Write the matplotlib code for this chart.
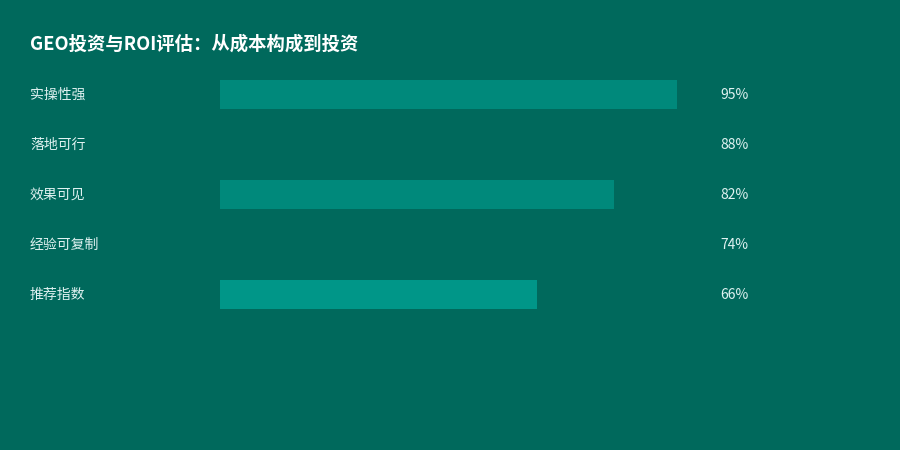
import matplotlib
matplotlib.use("Agg")
import matplotlib.pyplot as plt
import matplotlib.transforms as mtransforms

plt.rcParams['font.family'] = ['Noto Sans CJK SC', 'DejaVu Sans']

title = "GEO投资与ROI评估：从成本构成到投资"
categories = ["实操性强", "落地可行", "效果可见", "经验可复制", "推荐指数"]
values = [95, 88, 82, 74, 66]

BG = "#00695C"
bar_colors = ["#00897B", BG, "#00897B", BG, "#009688"]
TEXT = "#E0F2F1"

fig = plt.figure(figsize=(9, 4.5), dpi=100, facecolor=BG)
# plot area: x 220..701 px (0..100%), y 69..319 px (5 rows of 50 px)
ax = fig.add_axes([220 / 900, 1 - 319 / 450, 481 / 900, 250 / 450])
ax.set_facecolor(BG)
ax.set_xlim(0, 100)
ax.set_ylim(len(categories) - 0.5, -0.5)

ypos = list(range(len(categories)))
ax.barh(ypos, values, height=0.58, color=bar_colors, edgecolor="none")

lab_tr = mtransforms.blended_transform_factory(fig.transFigure, ax.transData)
for y, cat, v in zip(ypos, categories, values):
    ax.text(30 / 900, y + 0.02, cat, transform=lab_tr, ha="left", va="center",
            fontsize=10, color=TEXT)
    ax.text(720 / 900, y + 0.02, f"{v}%", transform=lab_tr, ha="left", va="center",
            fontsize=10, color=TEXT)

ax.axis("off")

fig.text(30 / 900, 1 - 44.5 / 450, title, ha="left", va="center",
         fontsize=13.2, fontweight="bold", color="white")

fig.savefig("out.png", dpi=100, facecolor=BG)
